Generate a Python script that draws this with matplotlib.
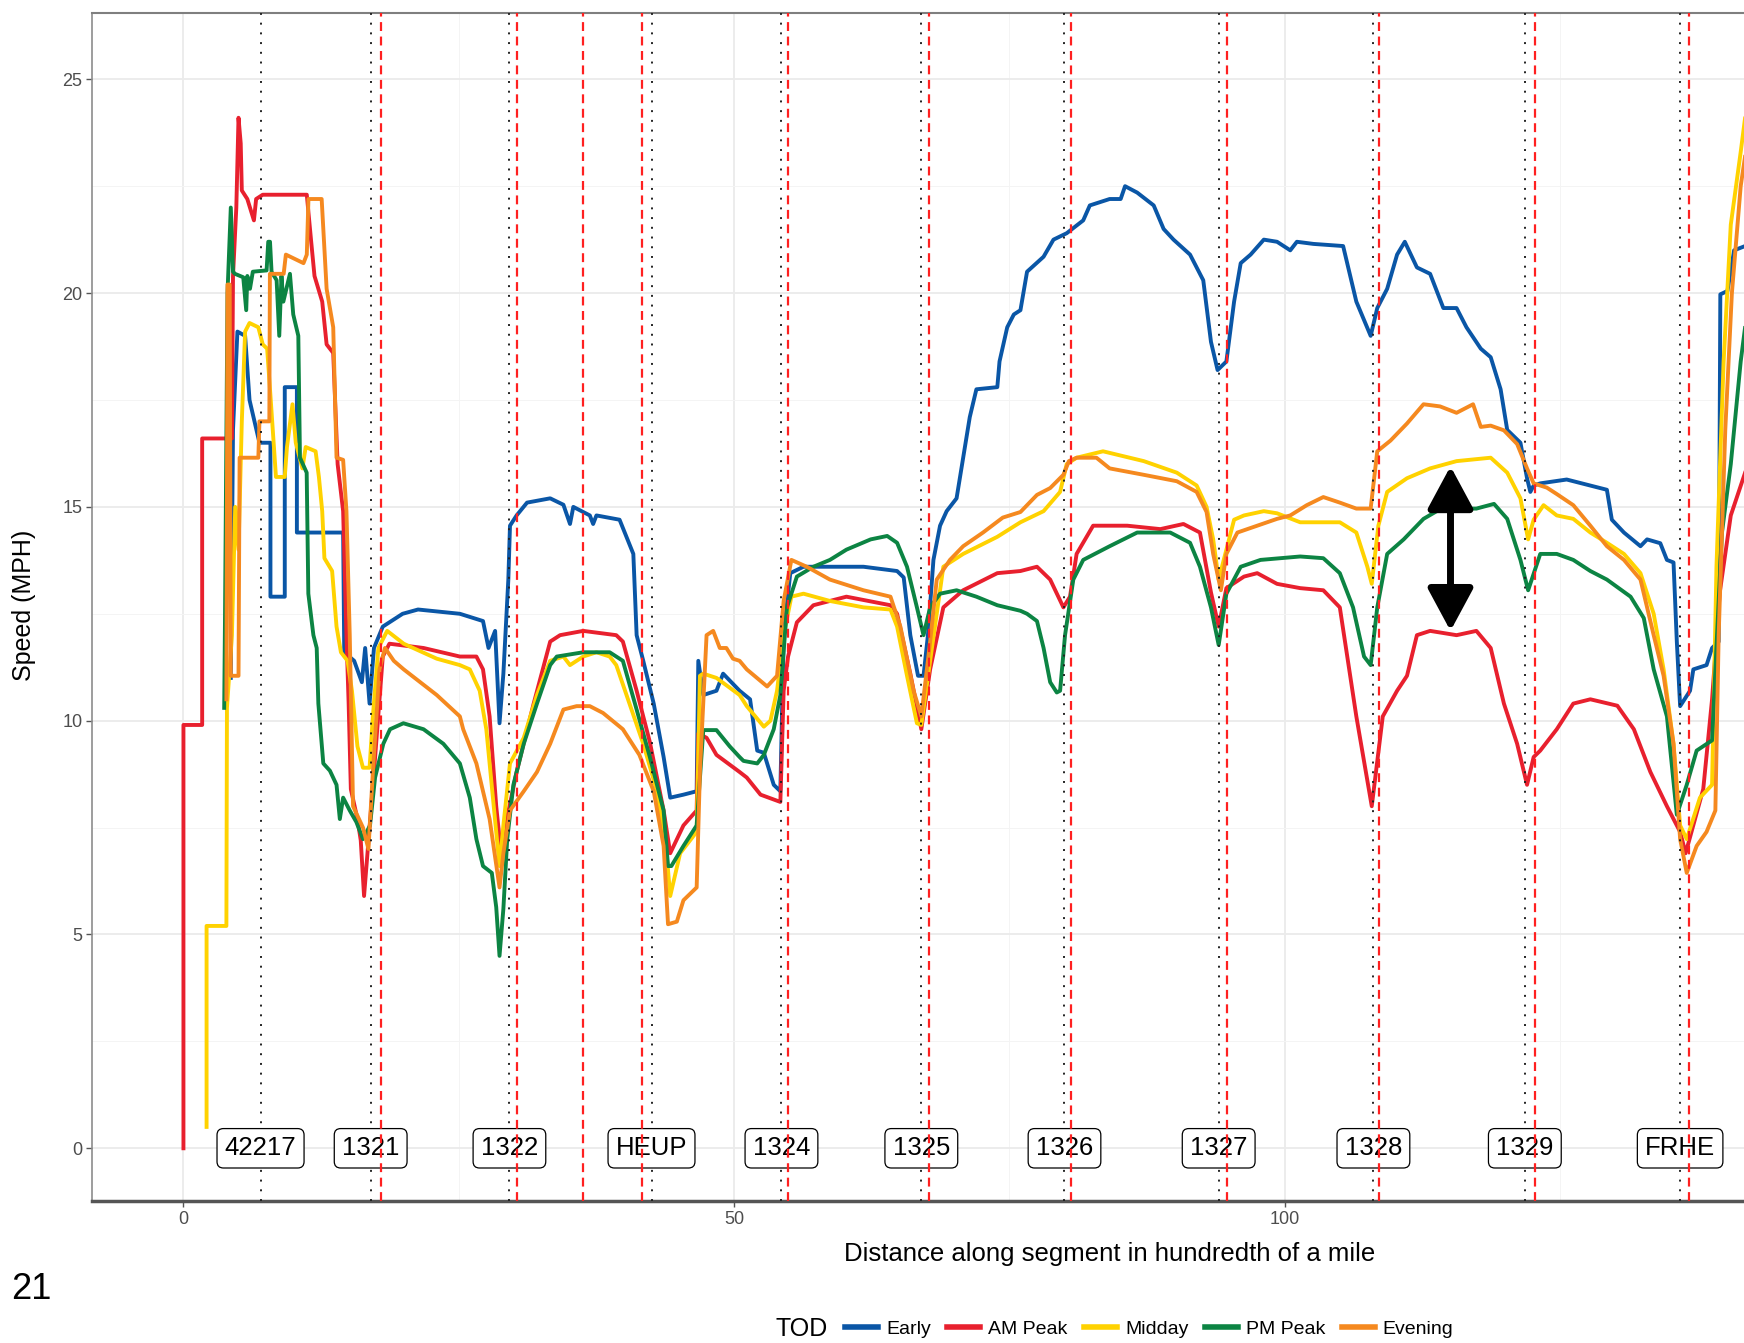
import matplotlib
matplotlib.use("Agg")
import matplotlib.pyplot as plt
from matplotlib.lines import Line2D
from matplotlib.ticker import MultipleLocator

plt.rcParams["font.family"] = ["Liberation Sans", "DejaVu Sans"]

# speed profiles by time of day (distance in 1/100 mile, speed in mph)
early_x = [4.3, 4.5, 4.9, 5.6, 6.0, 6.9, 7.9, 7.9, 9.2, 9.2, 10.3, 10.3, 14.5, 14.6, 15.5, 16.2, 16.5, 16.9,
           17.3, 18.1, 19.9, 21.3, 25.1, 27.2, 27.7, 28.3, 28.7, 29.05, 29.5, 29.65, 30.25, 31.2, 33.3, 34.5,
           35.1, 35.4, 36.9, 37.2, 37.5, 39.6, 40.85, 41.15, 41.75, 42.7, 43.6, 44.2, 45.4, 46.6, 46.75, 47.2,
           48.4, 49.0, 50.5, 51.45, 52.1, 52.7, 53.6, 54.2, 54.5, 55.1, 56.3, 61.75, 64.8, 65.4, 66.0, 66.7,
           67.2, 67.6, 68.1, 68.7, 69.3, 70.2, 70.8, 71.4, 72.0, 73.9, 74.1, 74.8, 75.4, 76.0, 76.6, 78.1,
           79.0, 80.2, 81.7, 82.3, 84.1, 85.1, 85.5, 86.6, 88.1, 89.0, 89.9, 91.4, 92.6, 93.3, 93.9, 94.7,
           95.4, 96.0, 96.9, 98.1, 99.3, 100.5, 101.1, 102.6, 105.3, 105.9, 106.5, 107.8, 108.4, 109.3,
           110.2, 110.9, 112.0, 113.2, 114.4, 115.6, 116.5, 117.8, 118.7, 119.6, 120.2, 121.4, 122.0,
           122.3, 122.6, 123.2, 125.6, 129.25, 129.7, 130.8, 132.3, 132.9, 134.1, 134.7, 135.3, 135.6,
           135.9, 136.8, 137.1, 138.3, 138.8, 139.4, 139.55, 140.2, 140.8, 141.8]
early_y = [11.0, 16.8, 19.1, 19.0, 17.5, 16.5, 16.5, 12.9, 12.9, 17.8, 17.8, 14.4, 14.4, 11.6, 11.4, 10.9, 11.7,
           10.4, 11.7, 12.2, 12.5, 12.6, 12.5, 12.33, 11.7, 12.1, 9.94, 11.1, 13.3, 14.56, 14.8, 15.1, 15.2,
           15.05, 14.6, 15.0, 14.8, 14.6, 14.8, 14.7, 13.9, 12.0, 11.4, 10.4, 9.15, 8.2, 8.27, 8.35, 11.4,
           10.6, 10.7, 11.1, 10.7, 10.5, 9.3, 9.25, 8.5, 8.35, 12.0, 13.45, 13.6, 13.6, 13.5, 13.35, 12.0,
           11.05, 11.05, 12.0, 13.76, 14.56, 14.9, 15.2, 16.15, 17.1, 17.75, 17.8, 18.4, 19.2, 19.5, 19.6,
           20.5, 20.85, 21.25, 21.4, 21.7, 22.05, 22.2, 22.2, 22.5, 22.35, 22.05, 21.5, 21.25, 20.9, 20.3,
           18.86, 18.2, 18.4, 19.8, 20.7, 20.9, 21.25, 21.2, 21.0, 21.2, 21.15, 21.1, 20.45, 19.8, 19.0,
           19.65, 20.1, 20.9, 21.2, 20.6, 20.45, 19.65, 19.65, 19.2, 18.7, 18.5, 17.75, 16.8, 16.5, 15.67,
           15.35, 15.5, 15.55, 15.64, 15.4, 14.7, 14.4, 14.08, 14.24, 14.15, 13.76, 13.7, 11.85, 10.34,
           10.7, 11.2, 11.3, 11.7, 11.85, 19.97, 20.05, 21.0, 21.1]

am_x = [0, 0, 1.7, 1.7, 4.4, 4.5, 4.8, 5.0, 5.2, 5.3, 5.8, 6.4, 6.6, 7.2, 11.2, 11.6, 11.9, 12.6, 13.0, 13.6,
        14.0, 14.5, 14.8, 15.0, 15.2, 15.8, 16.1, 16.4, 17.3, 18.1, 18.7, 21.8, 25.1, 26.6, 27.2, 27.8, 28.4,
        28.8, 30.25, 31.8, 33.3, 34.2, 36.3, 39.3, 39.9, 41.15, 42.35, 43.6, 44.2, 45.4, 46.6, 46.75, 47.5,
        48.4, 50.5, 51.15, 52.4, 54.2, 54.5, 54.9, 55.7, 57.2, 60.2, 64.2, 64.8, 66.0, 67.0, 67.8, 69.0,
        70.8, 73.9, 76.0, 77.5, 78.7, 79.9, 80.5, 81.1, 82.6, 85.7, 88.7, 90.8, 92.3, 93.3, 94.0, 94.7,
        96.3, 97.5, 99.3, 101.4, 103.5, 105.0, 106.5, 107.9, 108.9, 110.2, 111.1, 112.0, 113.2, 115.6,
        117.4, 118.7, 119.9, 121.1, 122.0, 122.6, 123.2, 124.7, 126.2, 127.75, 130.2, 131.7, 133.2,
        134.7, 135.9, 136.4, 138.0, 138.8, 139.5, 140.5, 141.8]
am_y = [0, 9.9, 9.9, 16.6, 16.6, 20.4, 22.0, 24.1, 23.5, 22.4, 22.2, 21.7, 22.2, 22.3, 22.3, 21.2, 20.4, 19.8,
        18.8, 18.6, 16.0, 14.9, 12.0, 10.4, 8.4, 7.7, 7.2, 5.9, 8.8, 11.5, 11.8, 11.7, 11.5, 11.5, 11.2,
        10.1, 8.0, 7.0, 8.8, 10.4, 11.85, 12.0, 12.1, 12.0, 11.85, 10.7, 9.5, 7.9, 6.9, 7.55, 7.9, 9.7,
        9.6, 9.2, 8.8, 8.67, 8.27, 8.1, 10.7, 11.5, 12.3, 12.7, 12.9, 12.7, 12.5, 11.1, 9.8, 11.2, 12.65,
        13.05, 13.45, 13.5, 13.6, 13.3, 12.65, 12.9, 13.9, 14.56, 14.56, 14.48, 14.6, 14.4, 13.0, 12.2,
        13.1, 13.37, 13.45, 13.2, 13.1, 13.05, 12.65, 10.1, 8.0, 10.1, 10.7, 11.05, 12.0, 12.1, 12.0,
        12.1, 11.7, 10.4, 9.46, 8.5, 9.15, 9.3, 9.8, 10.4, 10.5, 10.35, 9.8, 8.8, 8.0, 7.4, 6.9, 8.4,
        10.5, 13.0, 14.8, 15.8]

midday_x = [2.1, 2.1, 3.9, 3.95, 4.4, 4.7, 5.0, 5.3, 5.6, 6.0, 6.8, 7.2, 7.6, 7.9, 8.4, 9.2, 9.4, 9.9, 10.2,
            10.8, 11.1, 12.0, 12.3, 12.6, 12.8, 13.5, 13.9, 14.3, 14.9, 15.3, 15.8, 16.3, 16.9, 17.2, 17.7,
            18.5, 20.0, 23.0, 25.1, 26.0, 26.9, 27.5, 28.1, 28.7, 29.05, 29.65, 30.9, 32.1, 33.3, 34.5,
            35.1, 36.3, 37.5, 38.7, 39.3, 40.5, 41.75, 43.0, 43.9, 44.2, 45.1, 46.6, 46.9, 47.2, 48.4,
            50.5, 51.15, 52.7, 53.3, 53.9, 54.5, 55.2, 56.3, 58.7, 61.75, 64.2, 64.8, 65.7, 66.6, 67.0,
            67.8, 69.0, 70.8, 73.9, 76.0, 78.1, 79.6, 80.2, 81.1, 83.5, 87.2, 90.2, 92.0, 92.9, 93.5,
            94.0, 94.6, 95.4, 96.3, 98.1, 99.3, 101.4, 105.0, 106.5, 107.5, 107.9, 108.5, 109.3, 111.1,
            113.2, 115.6, 118.7, 120.2, 121.4, 122.1, 122.6, 123.5, 124.7, 126.2, 127.75, 129.25, 130.8,
            132.3, 133.5, 134.4, 135.3, 135.9, 136.5, 137.7, 138.8, 139.2, 139.85, 140.5, 141.4, 141.8]
midday_y = [0.5, 5.2, 5.2, 10.3, 12.0, 15.0, 14.0, 17.0, 19.1, 19.3, 19.2, 18.8, 18.7, 17.6, 15.7, 15.7, 16.4,
            17.4, 16.5, 15.9, 16.4, 16.3, 15.7, 14.9, 13.8, 13.5, 12.2, 11.6, 11.4, 10.7, 9.4, 8.9, 8.9,
            10.1, 11.7, 12.1, 11.8, 11.45, 11.3, 11.2, 10.7, 9.8, 8.2, 6.6, 7.55, 9.0, 9.6, 10.6, 11.4,
            11.5, 11.3, 11.5, 11.6, 11.5, 11.3, 10.4, 9.46, 8.35, 6.8, 5.9, 6.9, 7.4, 11.05, 11.1, 11.0,
            10.6, 10.34, 9.86, 10.0, 10.7, 12.0, 12.9, 12.97, 12.8, 12.65, 12.6, 12.2, 11.05, 9.94, 9.9,
            11.4, 13.6, 13.9, 14.3, 14.64, 14.9, 15.35, 16.0, 16.15, 16.3, 16.07, 15.8, 15.5, 15.0, 14.24,
            13.3, 13.9, 14.7, 14.8, 14.9, 14.85, 14.64, 14.64, 14.4, 13.6, 13.2, 14.56, 15.35, 15.67,
            15.9, 16.07, 16.15, 15.8, 15.2, 14.24, 14.7, 15.04, 14.8, 14.72, 14.4, 14.16, 13.9, 13.45,
            12.5, 11.2, 9.46, 7.55, 7.23, 8.2, 8.5, 13.6, 18.4, 21.6, 23.3, 24.1]

pm_x = [3.7, 3.77, 4.0, 4.3, 4.5, 4.68, 5.43, 5.7, 5.8, 6.04, 6.3, 7.55, 7.7, 7.86, 8.0, 8.46, 8.7, 8.9,
        9.07, 9.67, 9.97, 10.43, 10.58, 11.19, 11.34, 11.8, 12.1, 12.25, 12.7, 13.3, 13.9, 14.2, 14.5,
        15.1, 15.7, 16.3, 16.94, 17.4, 18.15, 18.76, 19.97, 21.8, 23.6, 25.1, 26.0, 26.6, 27.2, 28.0,
        28.4, 28.7, 29.05, 29.4, 29.96, 30.9, 32.1, 33.3, 33.9, 36.3, 38.7, 39.9, 41.15, 42.35, 43.6,
        44.0, 44.3, 45.4, 46.6, 47.2, 48.4, 49.6, 50.5, 50.85, 52.1, 52.7, 53.6, 54.2, 54.8, 55.7, 57.2,
        58.7, 60.2, 62.4, 63.9, 64.8, 65.7, 66.6, 67.2, 67.8, 68.7, 70.2, 72.0, 73.9, 76.0, 76.6, 77.5,
        78.1, 78.7, 79.3, 79.6, 80.05, 80.8, 81.7, 84.1, 86.6, 89.6, 91.4, 92.3, 93.3, 94.0, 94.7, 96.0,
        97.8, 101.4, 103.5, 105.0, 106.2, 107.2, 107.8, 108.4, 109.3, 110.8, 112.6, 113.8, 115.6,
        117.4, 119.0, 120.2, 121.4, 122.1, 123.2, 124.7, 126.2, 127.75, 129.25, 131.4, 132.6, 133.5,
        134.7, 135.6, 136.5, 137.4, 138.8, 139.1, 139.7, 140.5, 141.4, 141.8]
pm_y = [10.3, 12.3, 20.0, 22.0, 20.5, 20.45, 20.37, 19.6, 20.4, 20.1, 20.5, 20.53, 21.2, 21.2, 20.5, 20.3,
        19.0, 20.4, 19.8, 20.45, 19.5, 19.0, 16.15, 15.8, 12.97, 12.0, 11.7, 10.4, 9.0, 8.83, 8.5, 7.7,
        8.2, 7.9, 7.63, 7.23, 7.55, 8.67, 9.46, 9.8, 9.94, 9.8, 9.46, 9.0, 8.2, 7.23, 6.6, 6.44, 5.64,
        4.5, 5.6, 7.23, 8.5, 9.46, 10.4, 11.3, 11.5, 11.6, 11.6, 11.4, 10.26, 9.15, 7.9, 6.6, 6.6, 7.07,
        7.55, 9.78, 9.78, 9.4, 9.15, 9.06, 9.0, 9.2, 9.8, 10.6, 12.65, 13.37, 13.6, 13.76, 14.0, 14.24,
        14.32, 14.16, 13.6, 12.65, 12.0, 12.65, 12.97, 13.05, 12.9, 12.7, 12.57, 12.5, 12.33, 11.7,
        10.9, 10.66, 10.7, 12.0, 13.3, 13.76, 14.08, 14.4, 14.4, 14.16, 13.6, 12.65, 11.77, 12.97,
        13.6, 13.76, 13.84, 13.8, 13.45, 12.65, 11.5, 11.3, 12.65, 13.9, 14.24, 14.72, 14.9, 14.96,
        14.96, 15.07, 14.72, 13.76, 13.05, 13.9, 13.9, 13.76, 13.5, 13.3, 12.9, 12.4, 11.2, 10.1, 7.8,
        8.5, 9.3, 9.54, 11.2, 14.4, 16.0, 18.4, 19.2]

evening_x = [3.9, 4.0, 4.2, 4.3, 5.0, 5.1, 6.8, 6.9, 7.8, 7.85, 9.1, 9.3, 10.9, 11.2, 11.35, 12.55, 12.7,
             13.0, 13.6, 13.9, 14.5, 14.8, 15.1, 15.4, 16.3, 16.8, 17.2, 17.8, 18.3, 19.1, 20.0, 21.5,
             23.0, 25.1, 25.4, 26.6, 27.8, 28.7, 29.05, 29.65, 30.9, 32.1, 33.3, 34.5, 35.7, 36.9, 38.1,
             39.9, 41.4, 42.7, 43.6, 44.0, 44.8, 45.4, 46.6, 46.9, 47.5, 48.1, 48.7, 49.3, 49.9, 50.5,
             51.15, 53.0, 53.9, 54.5, 55.2, 56.6, 58.7, 61.75, 64.2, 65.1, 66.3, 67.0, 67.8, 68.4, 69.6,
             70.8, 72.6, 74.4, 76.0, 76.6, 77.5, 78.7, 79.9, 80.4, 81.1, 82.9, 84.1, 87.2, 90.2, 92.0,
             92.9, 93.5, 94.2, 94.7, 95.7, 97.5, 99.3, 100.5, 102.0, 103.5, 105.0, 106.5, 107.8, 108.4,
             109.6, 111.1, 112.6, 114.1, 115.6, 117.1, 117.8, 118.7, 119.9, 121.1, 122.0, 122.6, 123.8,
             124.7, 126.2, 127.75, 129.25, 130.8, 132.3, 133.5, 134.4, 135.3, 135.9, 136.5, 137.4, 138.3,
             139.1, 139.4, 140.0, 140.6, 141.4, 141.8]
evening_y = [10.5, 20.2, 20.2, 11.05, 11.05, 16.15, 16.15, 17.0, 17.0, 20.45, 20.45, 20.9, 20.7, 20.9, 22.2,
             22.2, 21.5, 20.1, 19.2, 16.15, 16.1, 14.9, 12.0, 8.0, 7.5, 7.0, 8.8, 11.2, 11.7, 11.4, 11.2,
             10.9, 10.6, 10.1, 9.8, 9.0, 7.7, 6.1, 6.9, 7.9, 8.35, 8.8, 9.46, 10.26, 10.34, 10.34, 10.18,
             9.8, 9.2, 8.35, 7.07, 5.24, 5.3, 5.8, 6.1, 8.83, 12.0, 12.1, 11.7, 11.7, 11.45, 11.4, 11.2,
             10.8, 11.05, 12.8, 13.76, 13.6, 13.3, 13.05, 12.9, 12.2, 10.7, 10.1, 11.85, 13.3, 13.76,
             14.08, 14.4, 14.75, 14.88, 15.04, 15.28, 15.44, 15.75, 16.07, 16.15, 16.15, 15.9, 15.75,
             15.6, 15.35, 14.88, 13.9, 13.05, 13.9, 14.4, 14.56, 14.72, 14.8, 15.04, 15.23, 15.1, 14.96,
             14.96, 16.3, 16.55, 16.95, 17.4, 17.35, 17.2, 17.4, 16.87, 16.9, 16.79, 16.47, 15.9, 15.55,
             15.45, 15.3, 15.04, 14.56, 14.08, 13.76, 13.3, 12.0, 11.05, 9.46, 7.23, 6.44, 7.07, 7.4,
             7.9, 12.0, 16.8, 20.0, 22.5, 23.2]

tod_names = ["Early", "AM Peak", "Midday", "PM Peak", "Evening"]
tod_colors = ["#0A56A6", "#E8202E", "#FFD200", "#0C8443", "#F5891F"]

stop_x = [7.0, 17.0, 29.6, 42.5, 54.3, 67.0, 80.0, 94.0, 108.05, 121.8, 135.9]
stop_labels = ["42217", "1321", "1322", "HEUP", "1324", "1325", "1326", "1327", "1328", "1329", "FRHE"]
red_x = [17.9, 30.25, 36.3, 41.6, 54.9, 67.7, 80.6, 94.8, 108.6, 122.7, 136.7]

arrow_x = 115.05
arrow_lo, arrow_hi = 12.1, 15.95

fig = plt.figure(figsize=(17.44, 13.43), dpi=100)
ax = fig.add_axes([0.0529, 0.1055, 0.9471, 0.8845])

series = [(early_x, early_y), (am_x, am_y), (midday_x, midday_y), (pm_x, pm_y), (evening_x, evening_y)]
for (xs, ys), c in zip(series, tod_colors):
    ax.plot(xs, ys, color=c, lw=2.8, zorder=2)

for xv in stop_x:
    ax.axvline(xv, color="#222222", ls=(0, (1, 4)), lw=1.4, zorder=3)
for xv, lab in zip(stop_x, stop_labels):
    ax.text(xv, 0, lab, ha="center", va="center", fontsize=18.5, zorder=4,
            bbox=dict(boxstyle="round,pad=0.3,rounding_size=0.25", fc="white", ec="black", lw=0.9))
for xv in red_x:
    ax.axvline(xv, color="#FF2020", ls=(0, (4, 2.5)), lw=1.6, zorder=5)

ax.annotate("", xy=(arrow_x, arrow_hi), xytext=(arrow_x, arrow_lo), zorder=6,
            arrowprops=dict(arrowstyle="<|-|>,head_length=1.3,head_width=0.7", color="black",
                            lw=5, shrinkA=0, shrinkB=0, mutation_scale=20))

ax.set_xlim(-8.28, 141.7)
ax.set_ylim(-1.24, 26.54)
ax.xaxis.set_major_locator(MultipleLocator(50))
ax.xaxis.set_minor_locator(MultipleLocator(25))
ax.yaxis.set_major_locator(MultipleLocator(5))
ax.yaxis.set_minor_locator(MultipleLocator(2.5))
ax.grid(which="major", color="#ebebeb", lw=1.3, zorder=0)
ax.grid(which="minor", color="#f4f4f4", lw=0.7, zorder=0)
ax.set_axisbelow(True)
ax.tick_params(which="major", direction="out", length=4, width=1, color="#555555",
               labelcolor="#4d4d4d", labelsize=13, pad=3)
ax.tick_params(which="minor", length=0)

ax.spines["right"].set_visible(False)
ax.spines["top"].set_color("#7f7f7f")
ax.spines["top"].set_linewidth(1.5)
ax.spines["left"].set_color("#8c8c8c")
ax.spines["left"].set_linewidth(1.2)
ax.spines["bottom"].set_color("#555555")
ax.spines["bottom"].set_linewidth(2.5)

fig.text(0.014, 0.549, "Speed (MPH)", rotation=90, ha="center", va="center", fontsize=18)
fig.text(0.636, 0.0666, "Distance along segment in hundredth of a mile", ha="center", va="center", fontsize=18.5)
fig.text(0.0063, 0.0395, "21", ha="left", va="center", fontsize=26)

fig.text(0.4445, 0.0104, "TOD", ha="left", va="center", fontsize=18)
handles = [Line2D([0], [0], color=c, lw=4) for c in tod_colors]
fig.legend(handles, tod_names, loc="center left", bbox_to_anchor=(0.4847, 0.0104), ncol=5,
           frameon=False, fontsize=14, handlelength=1.7, handletextpad=0.4, columnspacing=0.85,
           borderpad=0, borderaxespad=0)

fig.savefig("out.png", dpi=100)
